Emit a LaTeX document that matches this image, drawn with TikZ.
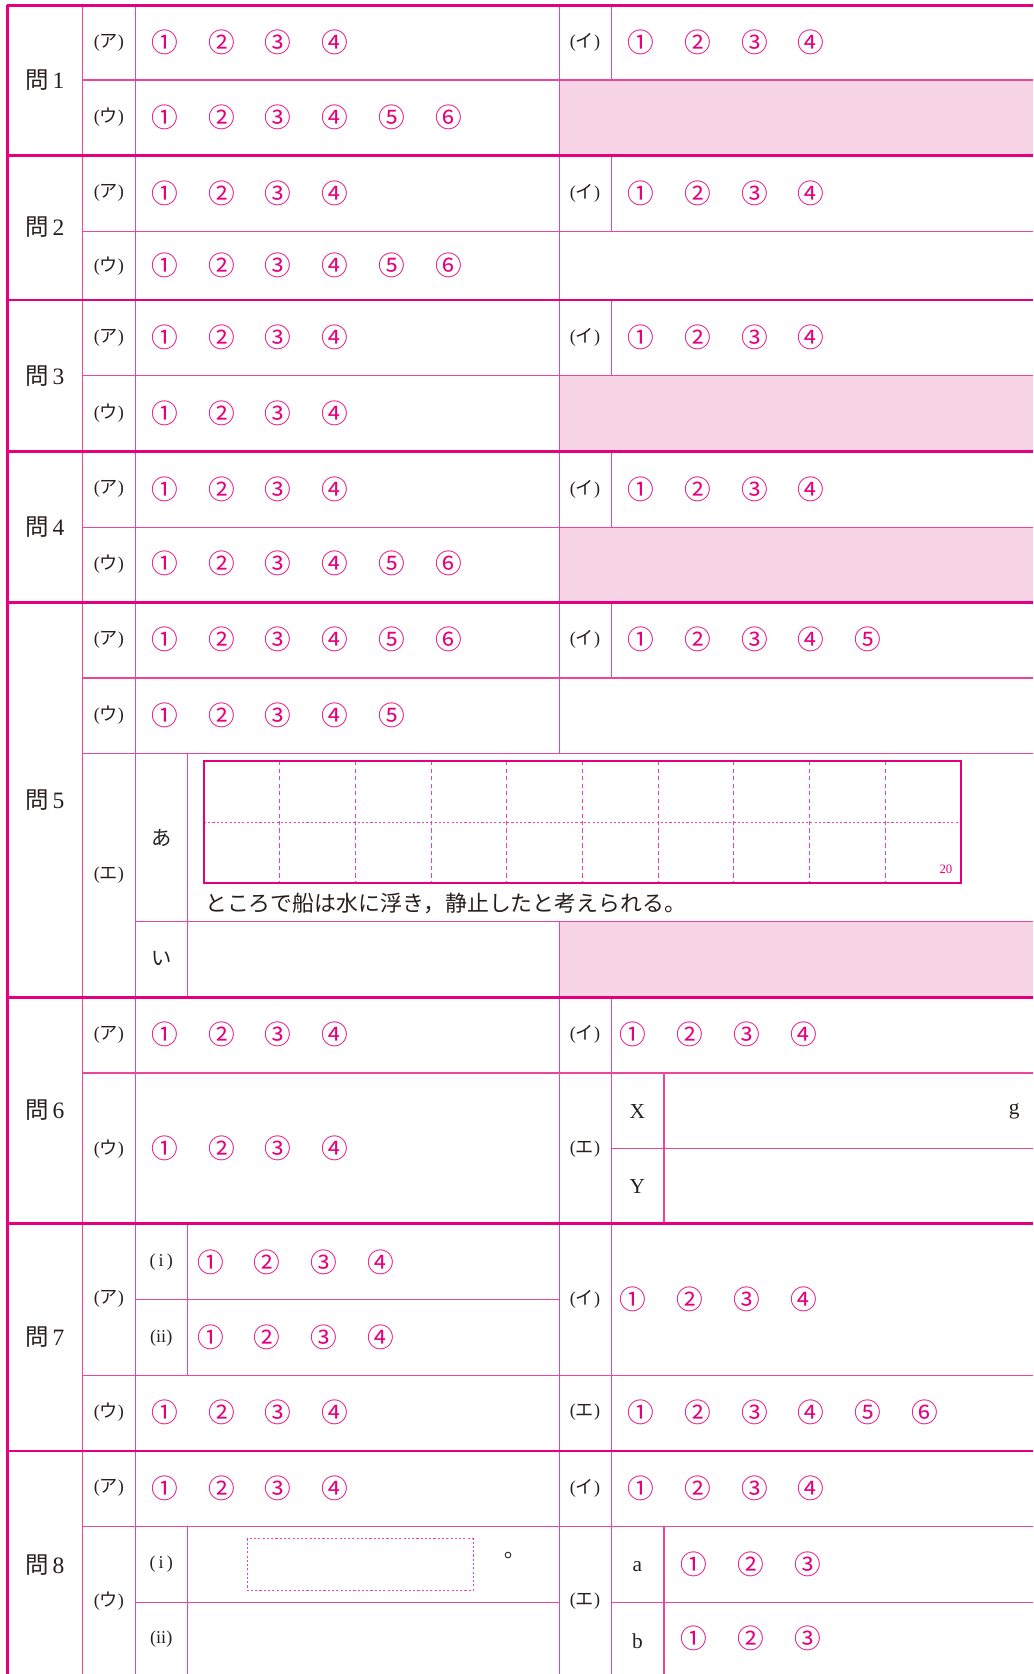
\documentclass[tikz,border=0pt]{standalone}
\usepackage{fontspec}
\setmainfont{Liberation Serif}
\newfontfamily\jp{Noto Sans CJK JP}
\definecolor{mag}{RGB}{230,0,126}
\definecolor{magthin}{RGB}{236,70,156}
\definecolor{pinkfill}{RGB}{248,213,230}
\definecolor{ink}{RGB}{40,30,30}
\newcommand\maru[1]{\ifcase#1\or ①\or ②\or ③\or ④\or ⑤\or ⑥\fi}
\tikzset{
  frame/.style={mag,line width=2.6pt},
  rule/.style={magthin,line width=1.1pt},
  shade/.style={fill=pinkfill},
  qname/.style={text=ink,font=\fontsize{22}{22}\selectfont},
  part/.style={text=ink,font=\fontsize{17}{17}\selectfont},
  latin/.style={text=ink,font=\fontsize{20}{20}\selectfont},
  choice/.style={text=mag,inner sep=0pt,font=\jp\fontsize{25}{25}\selectfont},
}

\begin{document}
\begin{tikzpicture}[x=1pt,y=-1pt]
   \useasboundingbox (0,0) rectangle (968,1568);
   \begin{scope}[yshift=-5pt]
    \fill[shade] (524,70) rectangle (968,141);
    \draw[rule] (77,70) -- (968,70);
    \draw[rule] (573,0) -- (573,70);
    \node[qname] (q1) at (42,70) {{\jp 問}\,1};
    \node[part] (q1a) at (102,35) {({\jp ア})};
    \foreach \k in {1,...,4} \node[choice] (q1a-\k) at ({101+53.2*\k},35) {\maru{\k}};
    \node[part] (q1b) at (548,35) {({\jp イ})};
    \foreach \k in {1,...,4} \node[choice] (q1b-\k) at ({547+53.2*\k},35) {\maru{\k}};
    \node[part] (q1c) at (102,105) {({\jp ウ})};
    \foreach \k in {1,...,6} \node[choice] (q1c-\k) at ({101+53.2*\k},105) {\maru{\k}};
   \end{scope}
   \begin{scope}[yshift=-146pt]
    \draw[rule] (77,71) -- (968,71);
    \draw[rule] (573,0) -- (573,71);
    \node[qname] (q2) at (42,67) {{\jp 問}\,2};
    \node[part] (q2a) at (102,35) {({\jp ア})};
    \foreach \k in {1,...,4} \node[choice] (q2a-\k) at ({101+53.2*\k},35) {\maru{\k}};
    \node[part] (q2b) at (548,35) {({\jp イ})};
    \foreach \k in {1,...,4} \node[choice] (q2b-\k) at ({547+53.2*\k},35) {\maru{\k}};
    \node[part] (q2c) at (102,103) {({\jp ウ})};
    \foreach \k in {1,...,6} \node[choice] (q2c-\k) at ({101+53.2*\k},103) {\maru{\k}};
   \end{scope}
   \begin{scope}[yshift=-281pt]
    \fill[shade] (524,71) rectangle (968,142);
    \draw[rule] (77,71) -- (968,71);
    \draw[rule] (573,0) -- (573,71);
    \node[qname] (q3) at (42,71) {{\jp 問}\,3};
    \node[part] (q3a) at (102,35) {({\jp ア})};
    \foreach \k in {1,...,4} \node[choice] (q3a-\k) at ({101+53.2*\k},35) {\maru{\k}};
    \node[part] (q3b) at (548,35) {({\jp イ})};
    \foreach \k in {1,...,4} \node[choice] (q3b-\k) at ({547+53.2*\k},35) {\maru{\k}};
    \node[part] (q3c) at (102,106) {({\jp ウ})};
    \foreach \k in {1,...,4} \node[choice] (q3c-\k) at ({101+53.2*\k},106) {\maru{\k}};
   \end{scope}
   \begin{scope}[yshift=-423pt]
    \fill[shade] (524,71) rectangle (968,141);
    \draw[rule] (77,71) -- (968,71);
    \draw[rule] (573,0) -- (573,71);
    \node[qname] (q4) at (42,71) {{\jp 問}\,4};
    \node[part] (q4a) at (102,35) {({\jp ア})};
    \foreach \k in {1,...,4} \node[choice] (q4a-\k) at ({101+53.2*\k},35) {\maru{\k}};
    \node[part] (q4b) at (548,35) {({\jp イ})};
    \foreach \k in {1,...,4} \node[choice] (q4b-\k) at ({547+53.2*\k},35) {\maru{\k}};
    \node[part] (q4c) at (102,105) {({\jp ウ})};
    \foreach \k in {1,...,6} \node[choice] (q4c-\k) at ({101+53.2*\k},105) {\maru{\k}};
   \end{scope}
   \begin{scope}[yshift=-564pt]
    \fill[shade] (524,299) rectangle (968,370);
    \draw[rule] (77,71) -- (968,71);
    \draw[rule] (77,142) -- (968,142);
    \draw[rule] (127,299) -- (968,299);
    \draw[rule] (573,0) -- (573,71);
    \draw[rule] (176,142) -- (176,370);
    \node[qname] (q5) at (42,185) {{\jp 問}\,5};
    \node[part] (q5a) at (102,35) {({\jp ア})};
    \foreach \k in {1,...,6} \node[choice] (q5a-\k) at ({101+53.2*\k},35) {\maru{\k}};
    \node[part] (q5b) at (548,35) {({\jp イ})};
    \foreach \k in {1,...,5} \node[choice] (q5b-\k) at ({547+53.2*\k},35) {\maru{\k}};
    \node[part] (q5c) at (102,106) {({\jp ウ})};
    \foreach \k in {1,...,5} \node[choice] (q5c-\k) at ({101+53.2*\k},106) {\maru{\k}};
    \node[part] (q5d) at (102,256) {({\jp エ})};
    \node[part,font=\jp\fontsize{19}{19}\selectfont] (q5d-a) at (151,221) {あ};
    \node[part,font=\jp\fontsize{19}{19}\selectfont] (q5d-i) at (151,334) {い};
    \foreach \k in {1,...,9} \draw[magthin,line width=0.8pt,dash pattern=on 4pt off 3pt] ({191+70.9*\k},149) -- ({191+70.9*\k},263);
    \draw[magthin,line width=0.8pt,dash pattern=on 2pt off 2pt] (191,206) -- (900,206);
    \draw[mag,line width=1.8pt] (191,149) rectangle (900,263);
    \node[text=mag,font=\fontsize{12}{12}\selectfont] (q5d-n) at (886,250) {20};
    \node[anchor=west,inner sep=0pt,text=ink,font=\jp\fontsize{20.5}{20.5}\selectfont] (q5d-t) at (192,282) {ところで船は水に浮き，静止したと考えられる。};
   \end{scope}
   \begin{scope}[yshift=-934pt]
    \draw[rule] (77,71) -- (968,71);
    \draw[rule] (573,142) -- (968,142);
    \draw[rule] (573,0) -- (573,212);
    \draw[rule] (622,71) -- (622,212);
    \node[qname] (q6) at (42,106) {{\jp 問}\,6};
    \node[part] (q6a) at (102,35) {({\jp ア})};
    \foreach \k in {1,...,4} \node[choice] (q6a-\k) at ({101+53.2*\k},35) {\maru{\k}};
    \node[part] (q6b) at (548,35) {({\jp イ})};
    \foreach \k in {1,...,4} \node[choice] (q6b-\k) at ({540+53.2*\k},35) {\maru{\k}};
    \node[part] (q6c) at (102,142) {({\jp ウ})};
    \foreach \k in {1,...,4} \node[choice] (q6c-\k) at ({101+53.2*\k},142) {\maru{\k}};
    \node[part] (q6d) at (548,142) {({\jp エ})};
    \node[latin] (q6d-x) at (597,107) {X};
    \node[latin] (q6d-y) at (597,177) {Y};
    \node[latin] (q6d-g) at (950,107) {g};
   \end{scope}
   \begin{scope}[yshift=-1146pt]
    \draw[rule] (127,71) -- (524,71);
    \draw[rule] (77,142) -- (968,142);
    \draw[rule] (573,0) -- (573,213);
    \draw[rule] (176,0) -- (176,142);
    \node[qname] (q7) at (42,106) {{\jp 問}\,7};
    \node[part] (q7a) at (102,71) {({\jp ア})};
    \node[part] (q7a-1) at (151,36) {(\,i\,)};
    \foreach \k in {1,...,4} \node[choice] (q7a1-\k) at ({144+53.2*\k},36) {\maru{\k}};
    \node[part] (q7a-2) at (151,107) {(ii)};
    \foreach \k in {1,...,4} \node[choice] (q7a2-\k) at ({144+53.2*\k},107) {\maru{\k}};
    \node[part] (q7b) at (548,71) {({\jp イ})};
    \foreach \k in {1,...,4} \node[choice] (q7b-\k) at ({540+53.2*\k},71) {\maru{\k}};
    \node[part] (q7c) at (102,177) {({\jp ウ})};
    \foreach \k in {1,...,4} \node[choice] (q7c-\k) at ({101+53.2*\k},177) {\maru{\k}};
    \node[part] (q7d) at (548,177) {({\jp エ})};
    \foreach \k in {1,...,6} \node[choice] (q7d-\k) at ({547+53.2*\k},177) {\maru{\k}};
   \end{scope}
   \begin{scope}[yshift=-1359pt]
    \draw[rule] (77,71) -- (968,71);
    \draw[rule] (127,142) -- (524,142);
    \draw[rule] (573,142) -- (968,142);
    \draw[rule] (573,0) -- (573,209);
    \draw[rule] (176,71) -- (176,209);
    \draw[rule] (622,71) -- (622,209);
    \node[qname] (q8) at (42,107) {{\jp 問}\,8};
    \node[part] (q8a) at (102,35) {({\jp ア})};
    \foreach \k in {1,...,4} \node[choice] (q8a-\k) at ({101+53.2*\k},35) {\maru{\k}};
    \node[part] (q8b) at (548,35) {({\jp イ})};
    \foreach \k in {1,...,4} \node[choice] (q8b-\k) at ({547+53.2*\k},35) {\maru{\k}};
    \node[part] (q8c) at (102,141) {({\jp ウ})};
    \node[part] (q8c-1) at (151,106) {(\,i\,)};
    \node[part] (q8c-2) at (151,176) {(ii)};
    \draw[magthin,line width=0.8pt,dash pattern=on 2pt off 2pt] (232,82) rectangle (443,131);
    \node[latin] (q8c-deg) at (476,102) {°};
    \node[part] (q8d) at (548,141) {({\jp エ})};
    \node[latin] (q8d-a) at (597,108) {a};
    \foreach \k in {1,...,3} \node[choice] (q8da-\k) at ({597+53.2*\k},106) {\maru{\k}};
    \node[latin] (q8d-b) at (597,178) {b};
    \foreach \k in {1,...,3} \node[choice] (q8db-\k) at ({597+53.2*\k},176) {\maru{\k}};
   \end{scope}
   \draw[rule] (77,5) -- (77,1568);
   \draw[rule] (127,5) -- (127,1568);
   \draw[rule] (524,5) -- (524,706);
   \draw[rule] (524,863) -- (524,1568);
   \draw[frame] (7,5) -- (7,1568);
   \foreach \y in {5,146,281,423,564,934,1146,1359} \draw[frame] (7,\y) -- (968,\y);
  \end{tikzpicture}
\end{document}
